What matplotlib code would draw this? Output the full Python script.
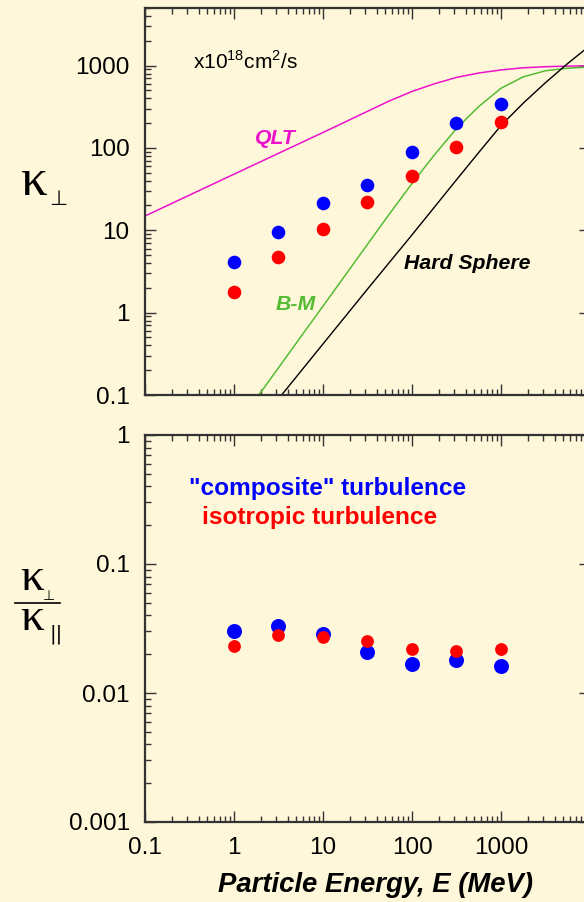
import numpy as np
import matplotlib
matplotlib.use('Agg')
import matplotlib.pyplot as plt
from matplotlib.lines import Line2D
from matplotlib.ticker import LogLocator, NullFormatter, FixedLocator, FixedFormatter

plt.rcParams['font.family'] = ['Liberation Sans', 'DejaVu Sans']

# Simulated particle energies (MeV)
energy = [1, 3.16, 10, 31.6, 100, 316, 1000]

# kappa_perp (x10^18 cm^2/s)
kperp_composite = [4.1, 9.5, 21.7, 35.5, 90, 200, 343]
kperp_isotropic = [1.78, 4.8, 10.3, 22.3, 45.8, 104, 208]

# kappa_perp / kappa_par
ratio_composite = [0.0302, 0.0331, 0.0287, 0.0209, 0.0169, 0.0181, 0.0161]
ratio_isotropic = [0.0230, 0.0280, 0.0270, 0.0252, 0.0219, 0.0210, 0.0219]

# theory curves
qlt_e  = [0.1, 1, 3.16, 10, 17.8, 31.6, 56, 100, 178, 316, 562, 1000, 1780, 3160, 5620, 10000]
qlt_k  = [14.9, 48, 86, 154, 207, 278, 373, 485, 600, 718, 812, 885, 940, 968, 985, 995]
bm_e   = [1.9, 3.16, 5.6, 10, 17.8, 31.6, 56, 100, 178, 316, 562, 1000, 1780, 3160, 5620, 10000]
bm_k   = [0.1, 0.214, 0.505, 1.2, 2.85, 6.75, 15.9, 37, 82, 172, 318, 530, 730, 865, 930, 960]
hard_e = [3.43, 10, 31.6, 100, 316, 562, 1000, 1780, 3160, 5620, 10000]
hard_k = [0.1, 0.417, 1.93, 8.8, 41, 88, 187, 350, 620, 1060, 1750]

BG      = '#FEF7DA'
BLUE    = '#0000FF'
RED     = '#FF0000'
MAGENTA = '#EE11CC'
GREEN   = '#55BB33'
SPINE   = '#333333'

W, H = 584, 902

def fx(x):
    return x / W

def fy(y):
    return 1 - y / H

def style_axis(ax, ylo, yhi):
    ax.set_xscale('log')
    ax.set_yscale('log')
    ax.set_xlim(0.1, 10000)
    ax.set_ylim(ylo, yhi)
    ax.set_facecolor(BG)
    for s in ax.spines.values():
        s.set_linewidth(1.6)
        s.set_color(SPINE)
    ax.tick_params(which='both', direction='in', top=True, right=True, color=SPINE, width=1.0)
    ax.tick_params(which='major', length=8, labelsize=17.5, pad=11)
    ax.tick_params(which='minor', length=4.5)
    ax.xaxis.set_minor_locator(LogLocator(base=10, subs=np.arange(2, 10), numticks=20))
    ax.yaxis.set_minor_locator(LogLocator(base=10, subs=np.arange(2, 10), numticks=20))
    ax.xaxis.set_minor_formatter(NullFormatter())
    ax.yaxis.set_minor_formatter(NullFormatter())

def kappa(x, y, sub, sub_size, sub_dx, sub_dy, size=34):
    # upright serif kappa with a small subscript symbol next to it
    fig.text(fx(x), fy(y), 'κ', fontsize=size, family=['Liberation Serif', 'DejaVu Serif'],
             ha='left', va='baseline')
    fig.text(fx(x + sub_dx), fy(y + sub_dy), sub, fontsize=sub_size, family=['DejaVu Sans'],
             ha='left', va='baseline')

fig = plt.figure(figsize=(W / 100, H / 100), dpi=100)
fig.patch.set_facecolor(BG)

# top panel: kappa_perp
ax1 = fig.add_axes([fx(145), fy(395), fx(445), 387 / H])
style_axis(ax1, 0.1, 5000)
ax1.yaxis.set_major_locator(FixedLocator([0.1, 1, 10, 100, 1000]))
ax1.yaxis.set_major_formatter(FixedFormatter(['0.1', '1', '10', '100', '1000']))
ax1.xaxis.set_major_locator(FixedLocator([0.1, 1, 10, 100, 1000, 10000]))
ax1.xaxis.set_major_formatter(NullFormatter())

ax1.plot(qlt_e, qlt_k, color=MAGENTA, lw=1.1)
ax1.plot(bm_e, bm_k, color=GREEN, lw=1.1)
ax1.plot(hard_e, hard_k, color='black', lw=1.0)
ax1.plot(energy, kperp_composite, 'o', color=BLUE, ms=9.8, mec='none', zorder=5)
ax1.plot(energy, kperp_isotropic, 'o', color=RED, ms=9.8, mec='none', zorder=5)

ax1.text(2.89, 129, 'QLT', color=MAGENTA, fontsize=15.3, fontweight='bold', fontstyle='italic',
         ha='center', va='center')
ax1.text(4.98, 1.24, 'B-M', color=GREEN, fontsize=15.3, fontweight='bold', fontstyle='italic',
         ha='center', va='center')
ax1.text(415, 4.0, 'Hard Sphere', color='black', fontsize=15.3, fontweight='bold', fontstyle='italic',
         ha='center', va='center')
ax1.text(0.346, 915, r'x10$^{\mathregular{18}}$cm$^{\mathregular{2}}$/s', fontsize=15,
         ha='left', va='baseline')

# bottom panel: kappa_perp / kappa_par
ax2 = fig.add_axes([fx(145), fy(822), fx(445), 387 / H])
style_axis(ax2, 0.001, 1)
ax2.yaxis.set_major_locator(FixedLocator([0.001, 0.01, 0.1, 1]))
ax2.yaxis.set_major_formatter(FixedFormatter(['0.001', '0.01', '0.1', '1']))
ax2.xaxis.set_major_locator(FixedLocator([0.1, 1, 10, 100, 1000, 10000]))
ax2.xaxis.set_major_formatter(FixedFormatter(['0.1', '1', '10', '100', '1000', '']))

ax2.plot(energy, ratio_composite, 'o', color=BLUE, ms=10.8, mec='none', zorder=5)
ax2.plot(energy, ratio_isotropic, 'o', color=RED, ms=9.2, mec='none', zorder=6)

ax2.text(0.411, 0.863, '"composite" turbulence', color=BLUE, fontsize=17.6, fontweight='bold',
         ha='center', va='center', transform=ax2.transAxes)
ax2.text(0.392, 0.788, 'isotropic turbulence', color=RED, fontsize=17.6, fontweight='bold',
         ha='center', va='center', transform=ax2.transAxes)

fig.text(fx(375), fy(885), 'Particle Energy, E (MeV)', fontsize=19.8, fontweight='bold',
         fontstyle='italic', ha='center', va='center')

# y labels
kappa(21, 195, '⊥', 15, 28, 10, size=38)
kappa(20, 590, '⊥', 10, 23, 10, size=34)
kappa(20, 630, '||', 14, 29, 10, size=34)
fig.add_artist(Line2D([fx(15), fx(60)], [fy(603), fy(603)], color='black', lw=1.2))

fig.savefig('out.png', dpi=100, facecolor=BG)
